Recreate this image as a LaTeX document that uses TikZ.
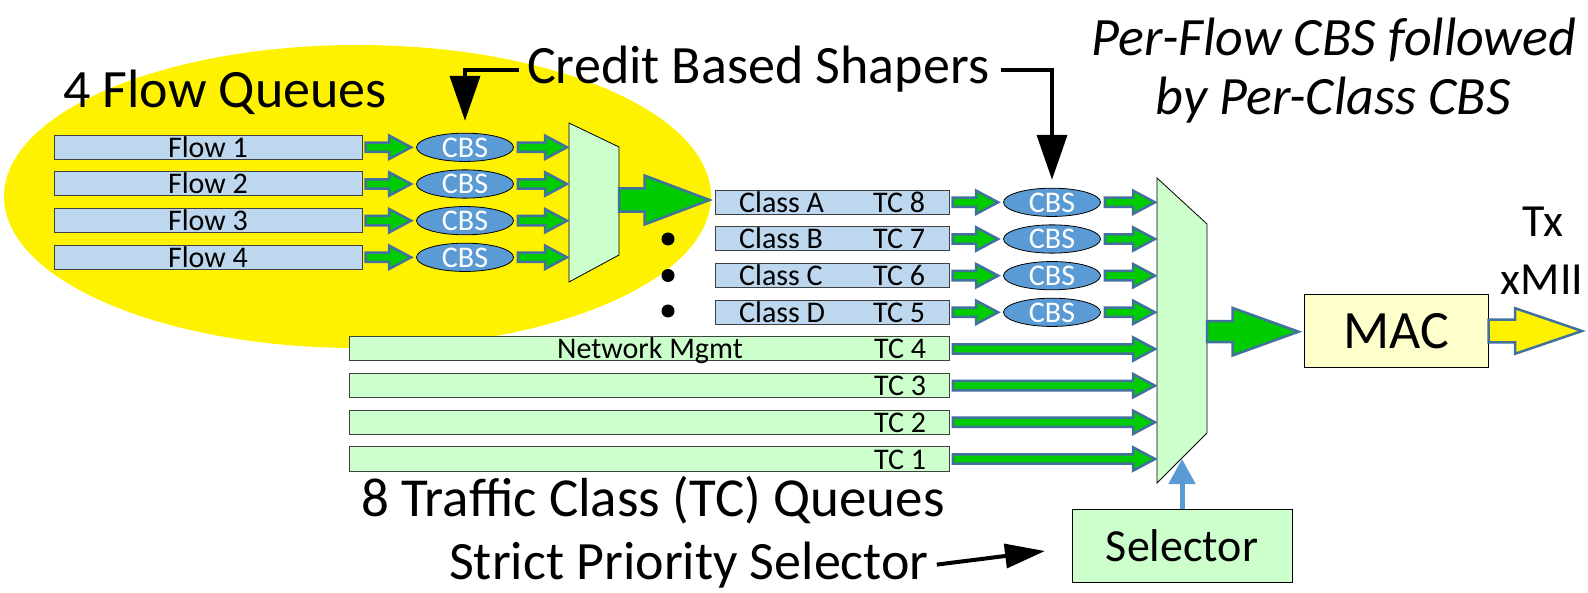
\documentclass[tikz,border=0pt]{standalone}
\usepackage{fontspec}
\setmainfont{Carlito}
\usetikzlibrary{shapes.geometric,calc,arrows.meta}
\definecolor{arrowgreen}{HTML}{00CC00}
\definecolor{arrowedge}{HTML}{41719C}
\definecolor{qblue}{HTML}{BDD7EE}
\definecolor{qgreen}{HTML}{CCFFCC}
\definecolor{cbsblue}{HTML}{5B9BD5}
\definecolor{macyellow}{HTML}{FFFFCC}
\definecolor{boxedge}{HTML}{404040}
\newcommand\blockarrow[6]{%
  \draw[barrow, fill=#6] let \p1=(#1), \p2=(#2) in
   ({\x1},{\y1+#3}) -- ({\x2-#5},{\y1+#3}) -- ({\x2-#5},{\y1+#4}) -- ({\x2},{\y1})
   -- ({\x2-#5},{\y1-#4}) -- ({\x2-#5},{\y1-#3}) -- ({\x1},{\y1-#3}) -- cycle;}
\tikzset{
  barrow/.style={line width=2.5pt, draw=arrowedge, line join=miter},
  qbox/.style={draw=boxedge, line width=1pt, minimum height=24pt, inner sep=0pt,
    text height=20pt, text depth=0pt, font=\fontsize{30}{30}\selectfont},
  flowbox/.style={qbox, fill=qblue, minimum width=308pt},
  classbox/.style={qbox, fill=qblue, minimum width=234pt},
  tcbox/.style={qbox, fill=qgreen, minimum width=600pt},
  smalltxt/.style={inner sep=0pt, font=\fontsize{30}{30}\selectfont},
  cbs/.style={ellipse, draw=black, line width=0.8pt, fill=cbsblue, text=white,
    minimum width=97pt, minimum height=25pt, inner sep=0pt,
    text height=20pt, text depth=0pt, font=\fontsize{30}{30}\selectfont},
  bigtxt/.style={inner sep=0pt, font=\fontsize{54}{54}\selectfont},
  titletxt/.style={inner sep=0pt, font=\fontsize{54}{54}\selectfont\itshape},
  mux/.style={draw=black, line width=0.8pt, fill=qgreen},
  blk/.style={line width=4pt, draw=black, -{Triangle[length=45pt,width=30pt]}},
  blk2/.style={line width=4pt, draw=black, -{Triangle[length=40pt,width=24pt]}},
  bluearrow/.style={line width=5pt, draw=cbsblue, -{Triangle[length=25pt,width=26pt]}},
  plainbox/.style={draw=black, line width=1pt, inner sep=0pt}
}
\begin{document}
\begin{tikzpicture}[x=1pt,y=-1pt]
\useasboundingbox (0,0) rectangle (1588,593);
% flow area
\fill[yellow] (357.5,196.5) ellipse [x radius=353.5, y radius=151.5];
\node[bigtxt, anchor=base west] (fq) at (63,108) {4 Flow Queues};
\node[bigtxt, anchor=base west] (cbsT) at (527,84) {Credit Based Shapers};
\node[titletxt, anchor=base] (t1) at (1334,55.7) {Per-Flow CBS followed};
\node[titletxt, anchor=base] (t2) at (1333,115) {by Per-Class CBS};

% muxes
\draw[mux] (569,123) -- (619,147) -- (619,255) -- (569,282) -- cycle;
\coordinate (mux1w) at (569,200);
\coordinate (mux1e) at (619,200);
\draw[mux] (1157,178) -- (1207,224) -- (1207,433) -- (1157,483) -- cycle;
\coordinate (mux2w) at (1157,330);
\coordinate (mux2e) at (1207,331.7);
\coordinate (mux2s) at (1182,459);

% flow queues
\foreach \i/\y in {1/147.3,2/184,3/220.7,4/257.3} {
  \node[flowbox] (f\i) at (208,\y) {Flow \i};
  \node[cbs] (fc\i) at (465,\y) {CBS};
  \blockarrow{$(f\i.east)+(3,0)$}{$(fc\i.west)+(-5,0)$}{4.7pt}{11.7pt}{22pt}{arrowgreen}
  \blockarrow{$(fc\i.east)+(4,0)$}{$(mux1w |- fc\i)+(-2,0)$}{4.7pt}{11.7pt}{22pt}{arrowgreen}
}

% class queues
\foreach \i/\y/\cl/\tc in {1/202.3/A/8,2/239/B/7,3/275.7/C/6,4/312.3/D/5} {
  \node[classbox] (k\i) at (832,\y) {};
  \node[smalltxt, anchor=base west] (kl\i) at (739,{\y+10}) {Class \cl};
  \node[smalltxt, anchor=base west] (kt\i) at (873,{\y+10}) {TC \tc};
  \node[cbs] (kc\i) at (1052,\y) {CBS};
  \blockarrow{$(k\i.east)+(3,0)$}{$(kc\i.west)+(-5,0)$}{4.7pt}{11.7pt}{22pt}{arrowgreen}
  \blockarrow{$(kc\i.east)+(4,0)$}{$(mux2w |- kc\i)+(-2,0)$}{4.7pt}{11.7pt}{22pt}{arrowgreen}
}

% TC queues
\foreach \i/\y/\tc in {1/349/4,2/385.7/3,3/422.3/2,4/459/1} {
  \node[tcbox] (t\i) at (649.25,\y) {};
  \node[smalltxt, anchor=base west] (tl\i) at (874,{\y+10}) {TC \tc};
  \blockarrow{$(t\i.east)+(3,0)$}{$(mux2w |- t\i)+(-2,0)$}{4.7pt}{11.7pt}{22pt}{arrowgreen}
}
\node[smalltxt, anchor=base] (nm) at (650,359) {Network Mgmt};

% dots
\foreach \i/\y in {1/239,2/275.5,3/311} \fill (668,\y) circle [radius=6.5];

% big arrow from flow mux to class A
\blockarrow{mux1e}{$(k1.west)+(-5,0)$}{11.6pt}{24.5pt}{65pt}{arrowgreen}

% MAC
\node[plainbox, fill=macyellow, minimum width=184pt, minimum height=73pt,
  font=\fontsize{54}{54}\selectfont] (mac) at (1396,331) {MAC};
\blockarrow{mux2e}{$(mac.west)+(-5,0)$}{10.5pt}{23.8pt}{66pt}{arrowgreen}
\coordinate (txout) at (1582,331);
\blockarrow{mac.east}{txout}{11.3pt}{22.8pt}{67pt}{yellow}
\node[inner sep=0pt, anchor=base, font=\fontsize{46}{46}\selectfont] (tx) at (1543,236.7) {Tx};
\node[inner sep=0pt, anchor=base, font=\fontsize{46}{46}\selectfont] (xmii) at (1542,295) {xMII};

% selector
\node[plainbox, fill=qgreen, minimum width=220pt, minimum height=73pt,
  font=\fontsize{46}{46}\selectfont] (sel) at (1182,545.5) {Selector};
\draw[bluearrow] (sel.north) -- (mux2s);

% bottom labels
\node[inner sep=0pt, font=\fontsize{55}{55}\selectfont, anchor=base west] (tcq) at (361,516) {8 Traffic Class (TC) Queues};
\node[bigtxt, anchor=base west] (sps) at (449,579) {Strict Priority Selector};
\coordinate (spstip) at (1045,551);
\draw[blk2] ($(sps.east)+(8,0)$) -- (spstip);

% CBS pointer arrows
\draw[blk, shorten >=12pt] ($(cbsT.west)+(-8,0)$) -| (fc1.north);
\draw[blk, shorten >=8pt] ($(cbsT.east)+(12,0)$) -| (kc1.north);
\end{tikzpicture}
\end{document}
